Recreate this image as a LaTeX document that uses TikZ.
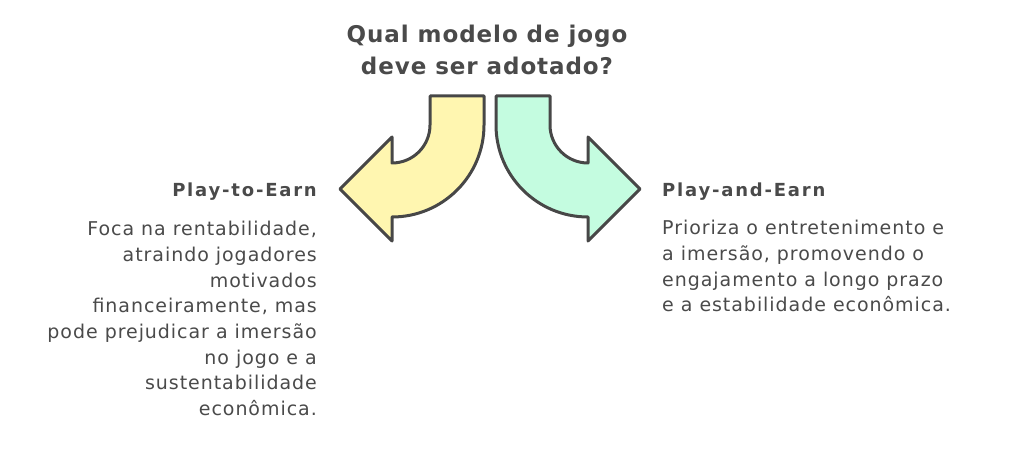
\documentclass[tikz,border=0pt]{standalone}
\usepackage{fontspec}
\setmainfont{DejaVu Sans}
\newfontfamily\titlefont[LetterSpace=4]{DejaVu Sans}
\newfontfamily\headfont[LetterSpace=10]{DejaVu Sans}
\newfontfamily\descfont[LetterSpace=5]{DejaVu Sans}
\usetikzlibrary{positioning}
\definecolor{linegray}{HTML}{474747}
\definecolor{textgray}{HTML}{4A4A4A}
\definecolor{sunyellow}{HTML}{FFF6B0}
\definecolor{mintgreen}{HTML}{C4FCE0}
\begin{document}
\begin{tikzpicture}[x=1pt, y=1pt,
    bent/.style = {draw=linegray, line width=3pt, line join=round},
    head/.style = {font=\headfont\bfseries\fontsize{18}{24}\selectfont, text=textgray, inner sep=0pt},
    desc/.style = {font=\descfont\fontsize{19}{25.7}\selectfont, text=textgray, inner sep=0pt}]
  \useasboundingbox (0,0) rectangle (1024,453);
  % question
  \node[font=\titlefont\bfseries\fontsize{23}{32}\selectfont, text=textgray, align=center, inner sep=0pt, anchor=base]
    (title) at (487,378) {Qual modelo de jogo\\deve ser adotado?};
  % left arrow
  \path[fill=sunyellow] (430,357) -- (484,357) -- (484,328) arc (0:-90:92) -- (392,212)
    -- (340,264) -- (392,316) -- (392,290) arc (-90:0:38) -- cycle;
  \draw[bent] (430,357) -- (484,357) -- (484,328) arc (0:-90:92) -- (392,212)
    -- (340,264) -- (392,316) -- (392,290) arc (-90:0:38) -- cycle;
  % right arrow
  \path[fill=mintgreen] (550,357) -- (496,357) -- (496,328) arc (180:270:92) -- (588,212)
    -- (640,264) -- (588,316) -- (588,290) arc (270:180:38) -- cycle;
  \draw[bent] (550,357) -- (496,357) -- (496,328) arc (180:270:92) -- (588,212)
    -- (640,264) -- (588,316) -- (588,290) arc (270:180:38) -- cycle;
  % labels
  \node[head, anchor=base east] (ptoe) at (317,256) {Play-to-Earn};
  \node[desc, align=right, below left=20pt and 0pt of ptoe.south east] (ptoetext)
    {Foca na rentabilidade,\\atraindo jogadores\\motivados\\financeiramente, mas\\pode prejudicar a imersão\\no jogo e a\\sustentabilidade\\econômica.};
  \node[head, anchor=base west] (pande) at (662,257) {Play-and-Earn};
  \node[desc, align=left, below right=20pt and 0pt of pande.south west] (pandetext)
    {Prioriza o entretenimento e\\a imersão, promovendo o\\engajamento a longo prazo\\e a estabilidade econômica.};
\end{tikzpicture}
\end{document}
